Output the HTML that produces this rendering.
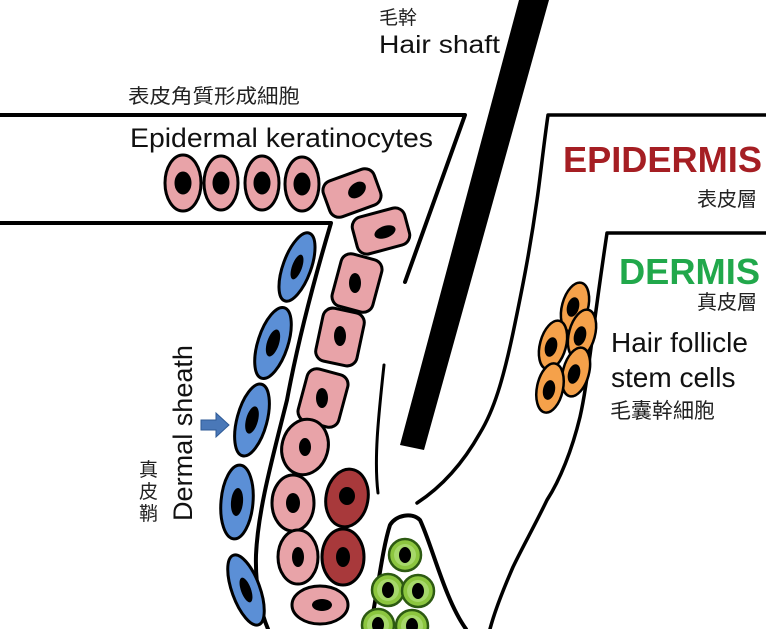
<!DOCTYPE html>
<html><head><meta charset="utf-8"><style>
html,body{margin:0;padding:0;background:#fff;}
svg{display:block;}
text{font-family:"Liberation Sans","Noto Sans CJK TC",sans-serif;}
</style></head><body>
<svg width="766" height="629" viewBox="0 0 766 629" xmlns="http://www.w3.org/2000/svg">
<rect width="766" height="629" fill="#fff"/>
<g fill="none" stroke="#000" stroke-width="4" stroke-linecap="round" stroke-linejoin="round">
  <path d="M0 115 L465 115 L405 282"/>
  <path d="M0 223 L331 223 C320 260 300 330 287 400 C272 460 258 510 256 555 C255 590 262 615 268 629"/>
  <path d="M384 365 C378 420 374 460 378 493" stroke-width="3"/>
  <path d="M766 115 L548 115 C543 150 540 180 537 200 C530 250 522 290 513 333 C503 380 494 410 480 433 C462 465 440 488 417 503" stroke-width="3.5"/>
  <path d="M766 233 L607 233 C600 280 596 310 593 333 C588 370 585 395 580 417 C572 450 560 480 547 500 C535 525 522 548 513 567 C503 590 495 610 490 629" stroke-width="3.5"/>
  <path d="M370 629 C378 590 382 550 390 525 C396 515 412 512 420 520 C432 545 445 600 466 629"/>
</g>
<polygon points="519,0 549,0 424,450 400,445" fill="#000"/>

<g stroke="#000" stroke-width="3">
  <g fill="#e8a3a8">
    <ellipse cx="183" cy="183" rx="18" ry="28"/>
    <ellipse cx="221" cy="183" rx="17" ry="27"/>
    <ellipse cx="262" cy="183" rx="17" ry="27"/>
    <ellipse cx="302" cy="184" rx="17" ry="27"/>
  </g>
  <g fill="#000">
    <ellipse cx="183" cy="183" rx="7" ry="10"/>
    <ellipse cx="221" cy="183" rx="7" ry="10"/>
    <ellipse cx="262" cy="183" rx="7" ry="10"/>
    <ellipse cx="302" cy="184" rx="7" ry="10"/>
  </g>
</g>

<g stroke="#000" stroke-width="3" fill="#e8a3a8">
  <rect x="-27" y="-19" width="54" height="38" rx="10" transform="translate(352,193) rotate(-20)"/>
  <rect x="-27" y="-19" width="54" height="38" rx="10" transform="translate(381,231) rotate(-15)"/>
  <rect x="-21" y="-27" width="42" height="54" rx="10" transform="translate(357,283) rotate(15)"/>
  <rect x="-21" y="-27" width="42" height="54" rx="10" transform="translate(340,337) rotate(12)"/>
  <rect x="-21" y="-27" width="42" height="54" rx="10" transform="translate(323,398) rotate(15)"/>
  <ellipse cx="305" cy="447" rx="23" ry="28" transform="rotate(15 305 447)"/>
  <ellipse cx="293" cy="503" rx="21" ry="28"/>
  <ellipse cx="298" cy="557" rx="20" ry="27"/>
  <ellipse cx="320" cy="605" rx="28" ry="19"/>
</g>
<g fill="#a8393b" stroke="#000" stroke-width="3">
  <ellipse cx="347" cy="498" rx="21" ry="29" transform="rotate(10 347 498)"/>
  <ellipse cx="343" cy="557" rx="21" ry="28"/>
</g>
<g fill="#000">
  <ellipse cx="357" cy="190" rx="7" ry="10" transform="rotate(50 357 190)"/>
  <ellipse cx="385" cy="232" rx="11" ry="6" transform="rotate(-20 385 232)"/>
  <ellipse cx="355" cy="283" rx="6" ry="10"/>
  <ellipse cx="340" cy="336" rx="6" ry="10"/>
  <ellipse cx="322" cy="398" rx="6" ry="10"/>
  <ellipse cx="305" cy="447" rx="6" ry="9"/>
  <ellipse cx="293" cy="503" rx="7" ry="10"/>
  <ellipse cx="298" cy="557" rx="6" ry="10"/>
  <ellipse cx="322" cy="605" rx="10" ry="6"/>
  <ellipse cx="347" cy="496" rx="8" ry="9"/>
  <ellipse cx="343" cy="557" rx="7" ry="10"/>
</g>

<g stroke="#000" stroke-width="3" fill="#5b8fd6">
  <ellipse cx="297" cy="267" rx="14" ry="36" transform="rotate(20 297 267)"/>
  <ellipse cx="273" cy="343" rx="15" ry="37" transform="rotate(18 273 343)"/>
  <ellipse cx="252" cy="420" rx="15" ry="37" transform="rotate(15 252 420)"/>
  <ellipse cx="237" cy="502" rx="16" ry="37" transform="rotate(5 237 502)"/>
  <ellipse cx="246" cy="590" rx="14" ry="37" transform="rotate(-20 246 590)"/>
</g>
<g fill="#000">
  <ellipse cx="297" cy="267" rx="5" ry="13" transform="rotate(20 297 267)"/>
  <ellipse cx="273" cy="343" rx="6" ry="14" transform="rotate(18 273 343)"/>
  <ellipse cx="252" cy="420" rx="6" ry="14" transform="rotate(15 252 420)"/>
  <ellipse cx="237" cy="502" rx="6" ry="14" transform="rotate(5 237 502)"/>
  <ellipse cx="246" cy="590" rx="5" ry="13" transform="rotate(-20 246 590)"/>
</g>

<g stroke="#2d5a12" stroke-width="2.5" fill="#8cc63f">
  <circle cx="405" cy="555" r="16"/>
  <circle cx="388" cy="590" r="16"/>
  <circle cx="418" cy="591" r="16"/>
  <circle cx="378" cy="625" r="16"/>
  <circle cx="412" cy="626" r="16"/>
</g>
<g fill="#a6d86a">
  <circle cx="405" cy="555" r="11"/>
  <circle cx="388" cy="590" r="11"/>
  <circle cx="418" cy="591" r="11"/>
  <circle cx="378" cy="625" r="11"/>
  <circle cx="412" cy="626" r="11"/>
</g>
<g fill="#000">
  <ellipse cx="405" cy="555" rx="6" ry="8"/>
  <ellipse cx="388" cy="590" rx="6" ry="8"/>
  <ellipse cx="418" cy="591" rx="6" ry="8"/>
  <ellipse cx="378" cy="625" rx="6" ry="8"/>
  <ellipse cx="412" cy="626" rx="6" ry="8"/>
</g>

<g stroke="#000" stroke-width="2.5" fill="#f5a14a">
  <ellipse cx="575" cy="307" rx="13" ry="25" transform="rotate(15 575 307)"/>
  <ellipse cx="582" cy="334" rx="13" ry="25" transform="rotate(15 582 334)"/>
  <ellipse cx="553" cy="345" rx="13" ry="25" transform="rotate(15 553 345)"/>
  <ellipse cx="576" cy="372" rx="13" ry="25" transform="rotate(15 576 372)"/>
  <ellipse cx="550" cy="388" rx="13" ry="25" transform="rotate(12 550 388)"/>
</g>
<g fill="#000">
  <ellipse cx="573" cy="307" rx="6" ry="10" transform="rotate(15 573 307)"/>
  <ellipse cx="580" cy="336" rx="6" ry="10" transform="rotate(15 580 336)"/>
  <ellipse cx="551" cy="347" rx="6" ry="10" transform="rotate(15 551 347)"/>
  <ellipse cx="574" cy="374" rx="6" ry="10" transform="rotate(15 574 374)"/>
  <ellipse cx="549" cy="390" rx="6" ry="10" transform="rotate(12 549 390)"/>
</g>

<polygon points="201,420 216,420 216,413 229,425 216,437 216,430 201,430" fill="#4a78b8" stroke="#2e5a96" stroke-width="1"/>

<text x="379" y="24" font-size="19" fill="#222">毛幹</text>
<text x="379" y="53" font-size="25" fill="#111" textLength="121" lengthAdjust="spacingAndGlyphs">Hair shaft</text>
<text x="128" y="103" font-size="20" fill="#222" textLength="172" lengthAdjust="spacingAndGlyphs">表皮角質形成細胞</text>
<text x="130" y="147" font-size="27" fill="#111" textLength="303" lengthAdjust="spacingAndGlyphs">Epidermal keratinocytes</text>
<text x="563" y="172" font-size="36" font-weight="bold" fill="#a51e23" textLength="199" lengthAdjust="spacingAndGlyphs">EPIDERMIS</text>
<text x="697" y="206" font-size="20" fill="#222">表皮層</text>
<text x="619" y="284" font-size="36" font-weight="bold" fill="#21a84b" textLength="141" lengthAdjust="spacingAndGlyphs">DERMIS</text>
<text x="697" y="309" font-size="20" fill="#222">真皮層</text>
<text x="611" y="352" font-size="28" fill="#111">Hair follicle</text>
<text x="611" y="387" font-size="28" fill="#111">stem cells</text>
<text x="610" y="418" font-size="21" fill="#222">毛囊幹細胞</text>
<text transform="translate(192,521) rotate(-90)" font-size="27" fill="#111" textLength="176" lengthAdjust="spacingAndGlyphs">Dermal sheath</text>
<text x="139" y="476" font-size="19" fill="#222">真</text>
<text x="139" y="498" font-size="19" fill="#222">皮</text>
<text x="139" y="520" font-size="19" fill="#222">鞘</text>
</svg>
</body></html>
